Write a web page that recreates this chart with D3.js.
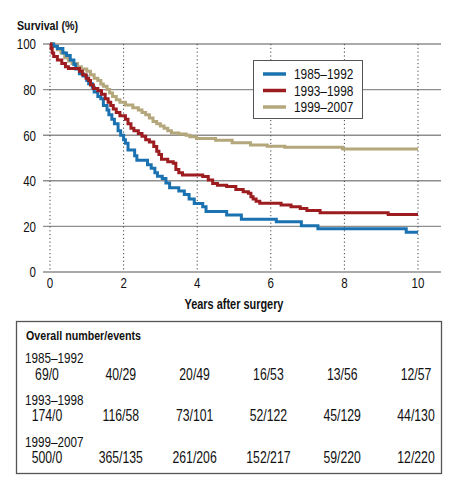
<!DOCTYPE html>
<html><head><meta charset="utf-8">
<script src="https://cdn.jsdelivr.net/npm/d3@7/dist/d3.min.js"></script>
<style>
html,body{margin:0;padding:0;background:#fff;}
svg{display:block;}
text{font-family:"Liberation Sans",Arial,sans-serif;fill:#111;}
</style></head>
<body><svg id="c" width="458" height="492"></svg>
<script>
// ---- data ----
const categories = ["1985–1992", "1993–1998", "1999–2007"];
const colors = ["#1b72b1", "#9c1c1f", "#b4a77b"];

const timesA = [0,0.1,0.2,0.35,0.45,0.55,0.65,0.7,0.8,0.9,1.0,1.05,1.15,1.2,1.3,1.38,1.45,1.55,1.6,1.68,1.75,1.85,1.92,2.0,2.05,2.12,2.3,2.36,2.65,2.75,2.85,2.92,3.05,3.15,3.25,3.5,3.65,3.78,3.92,4.15,4.24,4.8,5.2,6.15,6.83,7.28,9.68,10];
const survA  = [100,99,98,96,95,93,91,89,87,86,84,82.6,81,79,77,76,73,71,69,67,65,62,60,58,56.5,53.5,51,49,47,45.5,43.5,42,41,39,37,35.5,34,32,30,28.6,26.5,25,23.1,22,20.3,19,17.4,17.4];

const timesB = [0,0.03,0.06,0.1,0.2,0.32,0.42,0.5,0.8,0.88,0.98,1.05,1.1,1.18,1.3,1.4,1.5,1.58,1.65,1.72,1.8,1.9,2.05,2.12,2.2,2.28,2.4,2.5,2.6,2.7,2.82,2.9,2.96,3.03,3.2,3.35,3.42,3.5,3.6,4.15,4.3,4.42,4.55,4.8,5.05,5.25,5.39,5.46,5.52,5.6,5.7,6.28,6.55,6.8,6.98,7.34,9.19,10];
const survB  = [100,98,96,94.5,93,91.5,90,89.3,88,86.5,85,84,82,80.5,79.5,78,76,74.5,73,71.5,70,68.5,67,65,63,62,60.8,59.5,58,57,55,53,51.5,49.5,48.4,47.7,45,43.5,42.5,41.9,40.4,38.8,38,37.5,36.2,35.2,34.5,33,32,31,30.1,29.4,28.6,27.9,27,26,25.2,25.2];

const timesC = [0,0.1,0.2,0.3,0.4,0.5,0.6,0.75,0.85,1.0,1.1,1.2,1.3,1.38,1.45,1.55,1.62,1.7,1.8,1.9,2.05,2.25,2.4,2.5,2.6,2.7,2.8,2.9,3.0,3.1,3.2,3.3,3.5,3.7,3.8,3.98,4.5,4.95,5.45,5.9,6.38,7.95,10];
const survC  = [100,99,97.5,96,94,92.5,91.5,90,89,88,86.5,85,84,82.5,81.5,80,78.5,77,75.5,74.5,73.2,72,71,70,69,67.5,66,65,64,63,62,61,60.5,60,59.3,58.6,57.8,56.7,55.7,55.2,54.7,53.9,53.9];

const xTicks = [0, 2, 4, 6, 8, 10];
const yTicks = [0, 20, 40, 60, 80, 100];

const tableTitle = "Overall number/events";
const tableRowsA = ["69/0", "40/29", "20/49", "16/53", "13/56", "12/57"];
const tableRowsB = ["174/0", "116/58", "73/101", "52/122", "45/129", "44/130"];
const tableRowsC = ["500/0", "365/135", "261/206", "152/217", "59/220", "12/220"];

// ---- build ----
const series = [
  {name: categories[0], color: colors[0], t: timesA, s: survA},
  {name: categories[1], color: colors[1], t: timesB, s: survB},
  {name: categories[2], color: colors[2], t: timesC, s: survC}
];
const tableRows = [tableRowsA, tableRowsB, tableRowsC];
const SX = 0.78; // condensed look

const svg = d3.select("#c");
const x = d3.scaleLinear().domain([0, 10]).range([50, 418]);
const y = d3.scaleLinear().domain([0, 100]).range([272, 44]);

function place(sel, fx, fy) {
  return sel.attr("transform", (d, i) => `translate(${fx(d, i)},${fy(d, i)}) scale(${SX},1)`);
}

// horizontal gridlines
svg.append("g").selectAll("line").data(yTicks).join("line")
  .attr("x1", 43).attr("x2", 441)
  .attr("y1", d => y(d)).attr("y2", d => y(d))
  .attr("stroke", "#8e8e8e").attr("stroke-width", 1.4);

// vertical dotted gridlines
svg.append("g").selectAll("line").data(xTicks).join("line")
  .attr("x1", d => x(d)).attr("x2", d => x(d))
  .attr("y1", y(100)).attr("y2", y(0))
  .attr("stroke", "#444").attr("stroke-width", 1)
  .attr("stroke-dasharray", "1.2,2.6");

// y tick labels
place(svg.append("g").selectAll("text").data(yTicks).join("text"), () => 36, d => y(d))
  .attr("dy", "0.36em").attr("text-anchor", "end").attr("font-size", 14.8)
  .text(d => d);

// x tick labels
place(svg.append("g").selectAll("text").data(xTicks).join("text"), d => x(d), () => 287.5)
  .attr("text-anchor", "middle").attr("font-size", 14.8)
  .text(d => d);

place(svg.append("text").datum(0), () => 17, () => 29.5)
  .attr("font-size", 13.7).attr("font-weight", "bold").text("Survival (%)");
place(svg.append("text").datum(0), () => 234, () => 309)
  .attr("text-anchor", "middle")
  .attr("font-size", 14).attr("font-weight", "bold").text("Years after surgery");

// curves
const line = d3.line().curve(d3.curveStepAfter)
  .x(d => x(d[0])).y(d => y(d[1]));
const drawOrder = [2, 0, 1];
svg.append("g").selectAll("path").data(drawOrder.map(i => series[i])).join("path")
  .attr("d", d => line(d.t.map((t, i) => [t, d.s[i]])))
  .attr("fill", "none").attr("stroke", d => d.color)
  .attr("stroke-width", 3).attr("stroke-linejoin", "miter");

// legend
const lg = svg.append("g");
lg.append("rect").attr("x", 253.5).attr("y", 60.5).attr("width", 109).attr("height", 58)
  .attr("fill", "#fff").attr("stroke", "#555").attr("stroke-width", 1);
const ly = d3.scalePoint().domain(categories).range([74, 107]);
lg.selectAll("line").data(series).join("line")
  .attr("x1", 263).attr("x2", 286)
  .attr("y1", d => ly(d.name)).attr("y2", d => ly(d.name))
  .attr("stroke", d => d.color).attr("stroke-width", 3.5);
place(lg.selectAll("text").data(series).join("text"), () => 294, d => ly(d.name))
  .attr("dy", "0.36em").attr("font-size", 15.2).text(d => d.name);

// table
const tb = svg.append("g");
tb.append("rect").attr("x", 16.5).attr("y", 321.5).attr("width", 425).attr("height", 152)
  .attr("fill", "none").attr("stroke", "#555").attr("stroke-width", 1.3);
place(tb.append("text").datum(0), () => 26, () => 339.5)
  .attr("font-size", 13.7).attr("font-weight", "bold").text(tableTitle);
const colX = d3.scalePoint().domain(d3.range(6)).range([47, 416]);
const rowY = d3.scalePoint().domain(d3.range(3)).range([379.5, 463]);
place(tb.selectAll("text.lab").data(categories).join("text").attr("class", "lab"),
      () => 25, (d, i) => rowY(i) - 16.3)
  .attr("font-size", 15).text(d => d);
tableRows.forEach((row, ri) => {
  place(tb.append("g").selectAll("text").data(row).join("text"), (d, i) => colX(i), () => rowY(ri))
    .attr("text-anchor", "middle").attr("font-size", 15.7).text(d => d);
});
</script></body></html>
